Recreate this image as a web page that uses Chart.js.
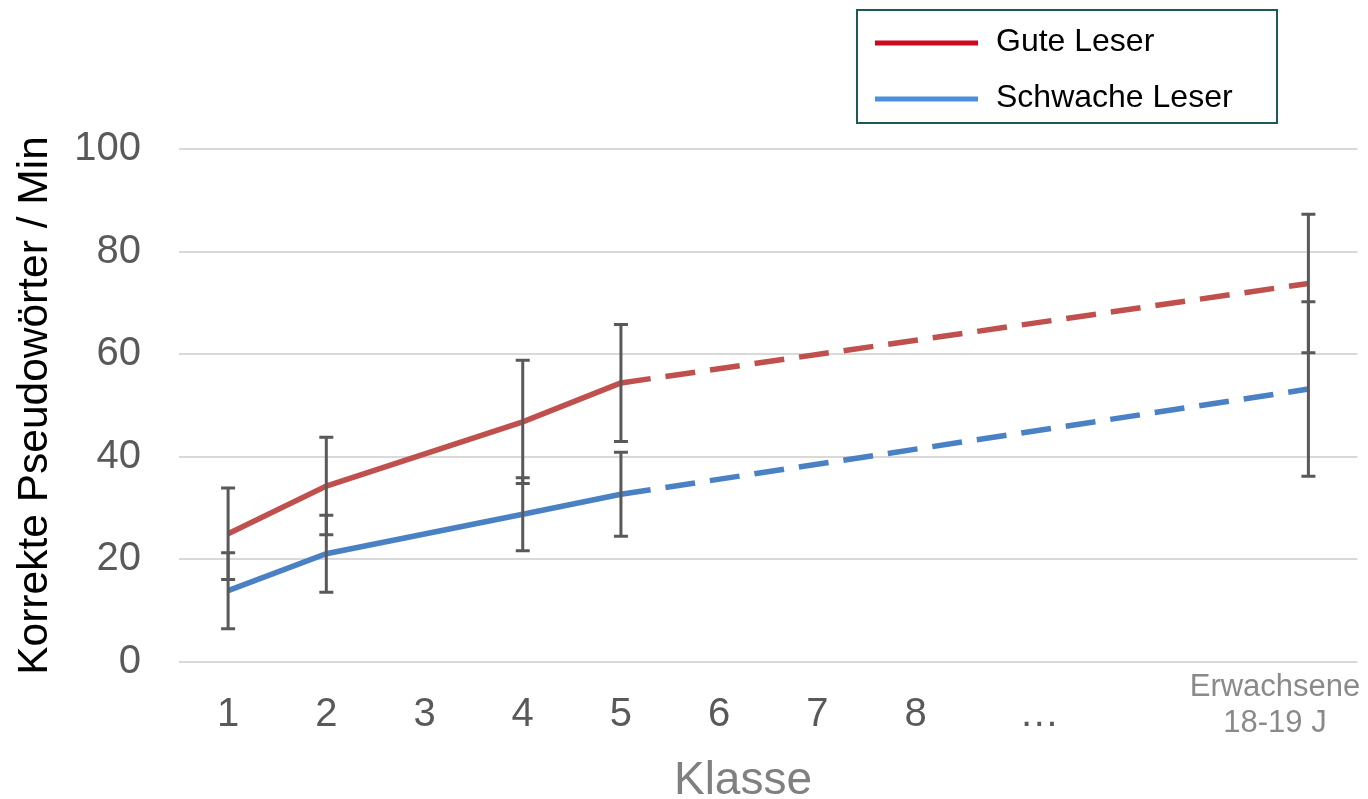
<!DOCTYPE html>
<html>
<head>
<meta charset="utf-8">
<script src="https://cdn.jsdelivr.net/npm/chart.js@4"></script>
<style>
  html, body { margin: 0; padding: 0; background: #fff; }
  #wrap { width: 1368px; height: 799px; }
</style>
</head>
<body>
<div id="wrap"><canvas id="readingChart" width="1368" height="799"></canvas></div>
<script>
// grade positions (adults placed after the "…" gap)
const grades = [1, 2, 4, 5, 12];
const goodMeans = [25, 34.3, 46.8, 54.4, 73.8];
const goodErrors = [8.9, 9.5, 12, 11.4, 13.5];
const weakMeans = [13.9, 21.1, 28.8, 32.7, 53.2];
const weakErrors = [7.4, 7.5, 7.1, 8.2, 17];

const xTickValues = [1, 2, 3, 4, 5, 6, 7, 8, 9.26, 11.66];
const xTickLabels = ["1", "2", "3", "4", "5", "6", "7", "8", "\u2026", ["Erwachsene", "18-19 J"]];
const yTickLabels = [0, 20, 40, 60, 80, 100];

const seriesNames = ["Gute Leser", "Schwache Leser"];
const lineColors = ["#c0504d", "#4a80c4"];
const legendColors = ["#cc0a1f", "#4a8fd8"];
const dashedFrom = 5; // extrapolated part is dashed

const toPoints = (means) => means.map((m, i) => ({ x: grades[i], y: m }));

// draws +/- error bars using the chart scales
const errorBarPlugin = {
    id: 'errorBars',
    afterDatasetsDraw(chart) {
        const ctx = chart.ctx;
        const xs = chart.scales.x, ys = chart.scales.y;
        ctx.save();
        ctx.strokeStyle = '#595959';
        ctx.lineWidth = 3;
        chart.data.datasets.forEach(ds => {
            ds.data.forEach((p, i) => {
                const px = xs.getPixelForValue(p.x);
                const top = ys.getPixelForValue(p.y + ds.errors[i]);
                const bot = ys.getPixelForValue(p.y - ds.errors[i]);
                ctx.beginPath();
                ctx.moveTo(px, top); ctx.lineTo(px, bot);
                ctx.moveTo(px - 7, top); ctx.lineTo(px + 7, top);
                ctx.moveTo(px - 7, bot); ctx.lineTo(px + 7, bot);
                ctx.stroke();
            });
        });
        ctx.restore();
    }
};

// boxed legend top right + x axis title
const decorPlugin = {
    id: 'decor',
    afterDraw(chart) {
        const ctx = chart.ctx;
        ctx.save();
        ctx.strokeStyle = '#1e5a55';
        ctx.lineWidth = 2;
        ctx.strokeRect(857, 10, 420, 113);
        ctx.font = '32px "Liberation Sans", Arial, sans-serif';
        ctx.fillStyle = '#000';
        ctx.textBaseline = 'alphabetic';
        seriesNames.forEach((name, i) => {
            const y = 43 + i * 56;
            ctx.strokeStyle = legendColors[i];
            ctx.lineWidth = 5;
            ctx.beginPath();
            ctx.moveTo(875, y); ctx.lineTo(978, y);
            ctx.stroke();
            ctx.fillText(name, 996, y + 8);
        });
        ctx.font = '46px "Liberation Sans", Arial, sans-serif';
        ctx.fillStyle = '#808080';
        ctx.textAlign = 'center';
        ctx.fillText('Klasse', 743, 794);
        ctx.restore();
    }
};

const makeDataset = (i, means, errors) => ({
    label: seriesNames[i],
    data: toPoints(means),
    errors: errors,
    borderColor: lineColors[i],
    backgroundColor: lineColors[i],
    borderWidth: 5.5,
    pointRadius: 0,
    tension: 0,
    segment: {
        borderDash: c => c.p0.parsed.x >= dashedFrom ? [30, 15] : undefined
    }
});

new Chart(document.getElementById('readingChart').getContext('2d'), {
    type: 'line',
    data: {
        datasets: [
            makeDataset(0, goodMeans, goodErrors),
            makeDataset(1, weakMeans, weakErrors)
        ]
    },
    options: {
        responsive: false,
        animation: false,
        layout: { padding: { top: 149, right: 10, left: 0, bottom: 0 } },
        plugins: { legend: { display: false }, tooltip: { enabled: false } },
        scales: {
            x: {
                type: 'linear',
                min: 0.5,
                max: 12.5,
                grid: { display: false, drawTicks: false },
                border: { display: false },
                afterBuildTicks: s => { s.ticks = xTickValues.map(v => ({ value: v })); },
                afterFit: s => { s.height = 137; },
                ticks: {
                    autoSkip: false,
                    maxRotation: 0,
                    padding: 7,
                    crossAlign: 'near',
                    callback: (v, i) => xTickLabels[i],
                    color: c => c.index === xTickValues.length - 1 ? '#8a8a8a' : '#595959',
                    font: c => c.index === xTickValues.length - 1
                        ? { family: '"Liberation Sans", Arial, sans-serif', size: 31, lineHeight: 1.17 }
                        : { family: '"Liberation Sans", Arial, sans-serif', size: 40, lineHeight: 2.3 }
                }
            },
            y: {
                min: 0,
                max: 100,
                afterBuildTicks: s => { s.ticks = yTickLabels.map(v => ({ value: v })); },
                afterFit: s => { s.width = 179; },
                grid: { color: '#d9d9d9', lineWidth: 2, drawTicks: false },
                border: { display: false },
                ticks: {
                    padding: 38,
                    color: '#595959',
                    font: { family: '"Liberation Sans", Arial, sans-serif', size: 40 }
                },
                title: {
                    display: true,
                    text: 'Korrekte Pseudowörter / Min',
                    color: '#000',
                    padding: { top: 10, bottom: 0 },
                    font: { family: '"Liberation Sans", Arial, sans-serif', size: 42.5, lineHeight: 1.2 }
                }
            }
        }
    },
    plugins: [errorBarPlugin, decorPlugin]
});
</script>
</body>
</html>
